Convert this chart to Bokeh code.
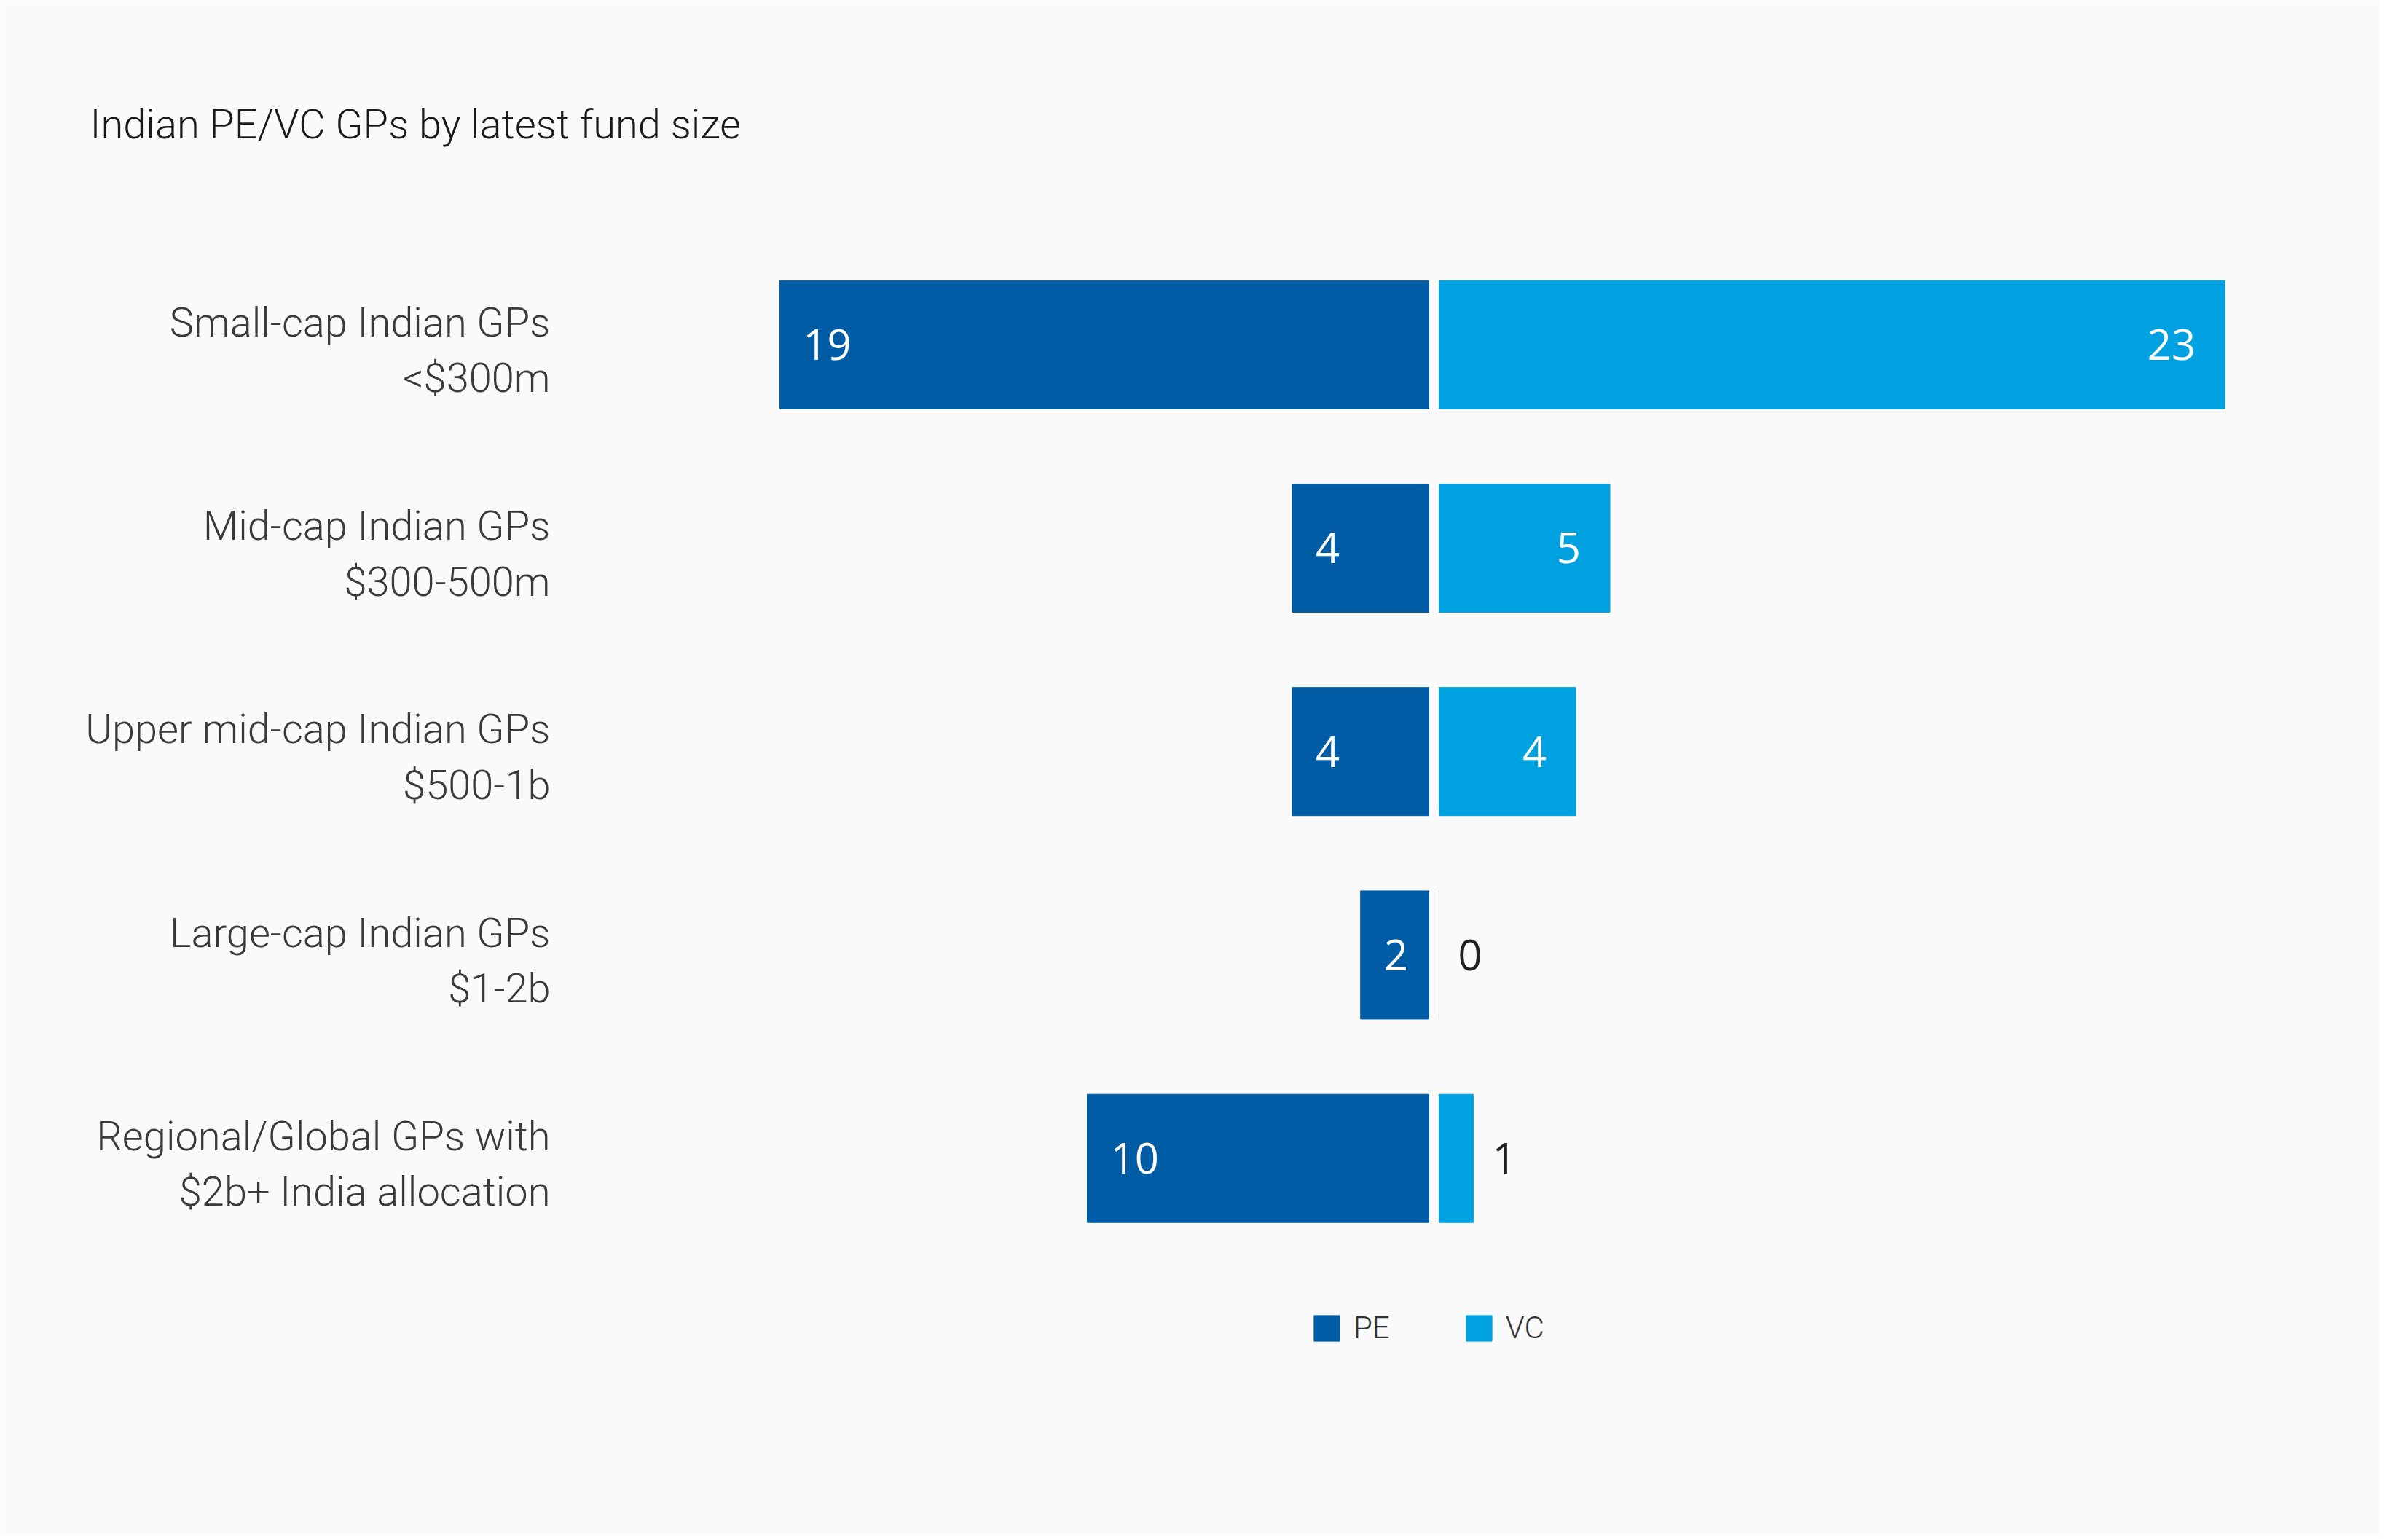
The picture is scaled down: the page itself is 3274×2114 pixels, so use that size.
import numpy as np
from bokeh.plotting import figure
from bokeh.models import Range1d, ColumnDataSource, Label, Legend, LegendItem
from bokeh.core.properties import value
from bokeh.embed import file_html
from bokeh.resources import INLINE

# ---------------- data ----------------
title_text = "Indian PE/VC GPs by latest fund size"
categories = [
    "Small-cap Indian GPs\n<$300m",
    "Mid-cap Indian GPs\n$300-500m",
    "Upper mid-cap Indian GPs\n$500-1b",
    "Large-cap Indian GPs\n$1-2b",
    "Regional/Global GPs with\n$2b+ India allocation",
]
pe_values = [19, 4, 4, 2, 10]
vc_values = [23, 5, 4, 0, 1]
series_names = ["PE", "VC"]

# ---------------- style / layout ----------------
PE_COLOR = "#005ca5"
VC_COLOR = "#00a1e1"
BG = "#fafafa"
LABEL_FONT_NAME = "Roboto Light, Roboto"
LABEL_FONT = value(LABEL_FONT_NAME)
NUM_FONT = value("Open Sans")

W, H = 3266, 2106
PX_PER_UNIT = 46.9
ZERO_PX = 1968.0
BAND = 279.25
TOP_CENTER = 472.7
GAP = 7.0 / PX_PER_UNIT
BAR_H = 176.0 / BAND

p = figure(
    width=W, height=H,
    x_range=Range1d(-ZERO_PX / PX_PER_UNIT, (W - ZERO_PX) / PX_PER_UNIT),
    y_range=Range1d((H - TOP_CENTER) / BAND, -TOP_CENTER / BAND),
    x_axis_location=None, y_axis_location=None,
    toolbar_location=None, output_backend="svg",
    min_border=0,
)
p.background_fill_color = BG
p.border_fill_color = BG
p.outline_line_color = None
p.grid.visible = False

pos = np.arange(len(categories))
pe = np.array(pe_values, dtype=float)
vc = np.array(vc_values, dtype=float)

pe_src = ColumnDataSource(dict(y=pos, left=-(GAP + pe), right=np.full(len(pe), -GAP),
                               label=[str(int(v)) for v in pe]))
vc_line = [VC_COLOR if v > 0 else "#c3d3e2" for v in vc]
vc_src = ColumnDataSource(dict(y=pos, left=np.full(len(vc), GAP), right=GAP + vc,
                               label=[str(int(v)) for v in vc], lc=vc_line))

r_pe = p.hbar(y="y", left="left", right="right", height=BAR_H, source=pe_src,
              fill_color=PE_COLOR, line_color=PE_COLOR, line_width=1)
r_vc = p.hbar(y="y", left="left", right="right", height=BAR_H, source=vc_src,
              fill_color=VC_COLOR, line_color="lc", line_width=1)

# PE value labels (inside, left aligned)
p.text(x="left", y="y", text="label", source=pe_src, x_offset=32,
       text_align="left", text_baseline="middle", text_color="white",
       text_font=NUM_FONT, text_font_size="58px")

# VC value labels
inside = vc >= 2
vc_in = ColumnDataSource(dict(x=(GAP + vc)[inside], y=pos[inside],
                              label=[str(int(v)) for v in vc[inside]]))
vc_out = ColumnDataSource(dict(x=(GAP + vc)[~inside], y=pos[~inside],
                               label=[str(int(v)) for v in vc[~inside]]))
p.text(x="x", y="y", text="label", source=vc_in, x_offset=-40,
       text_align="right", text_baseline="middle", text_color="white",
       text_font=NUM_FONT, text_font_size="58px")
p.text(x="x", y="y", text="label", source=vc_out, x_offset=26,
       text_align="left", text_baseline="middle", text_color="#222222",
       text_font=NUM_FONT, text_font_size="58px")

# Category labels
LABEL_X = (755.0 - ZERO_PX) / PX_PER_UNIT
p.text(x=[LABEL_X] * len(categories), y=pos, text=categories, y_offset=8,
       text_align="right", text_baseline="middle", text_color="#3a3a3a",
       text_font=LABEL_FONT, text_font_size="56px", text_line_height=1.16)

# Title
p.add_layout(Label(x=123, y=H - 170, x_units="screen", y_units="screen",
                   text=title_text, text_font=LABEL_FONT_NAME, text_font_size="56px",
                   text_color="#1a1a1a", text_baseline="middle", text_align="left"))

# Legend
legend = Legend(
    items=[LegendItem(label=series_names[0], renderers=[r_pe]),
           LegendItem(label=series_names[1], renderers=[r_vc])],
    orientation="horizontal", location=(1799, H - 1847),
    glyph_width=44, glyph_height=44, label_standoff=15, spacing=100,
    padding=0, margin=0, border_line_color=None, background_fill_alpha=0,
    label_text_font=LABEL_FONT_NAME, label_text_font_size="42px", label_text_color="#333333",
    label_text_baseline="middle",
)
p.add_layout(legend)

open("out.html", "w").write(file_html(p, INLINE))
